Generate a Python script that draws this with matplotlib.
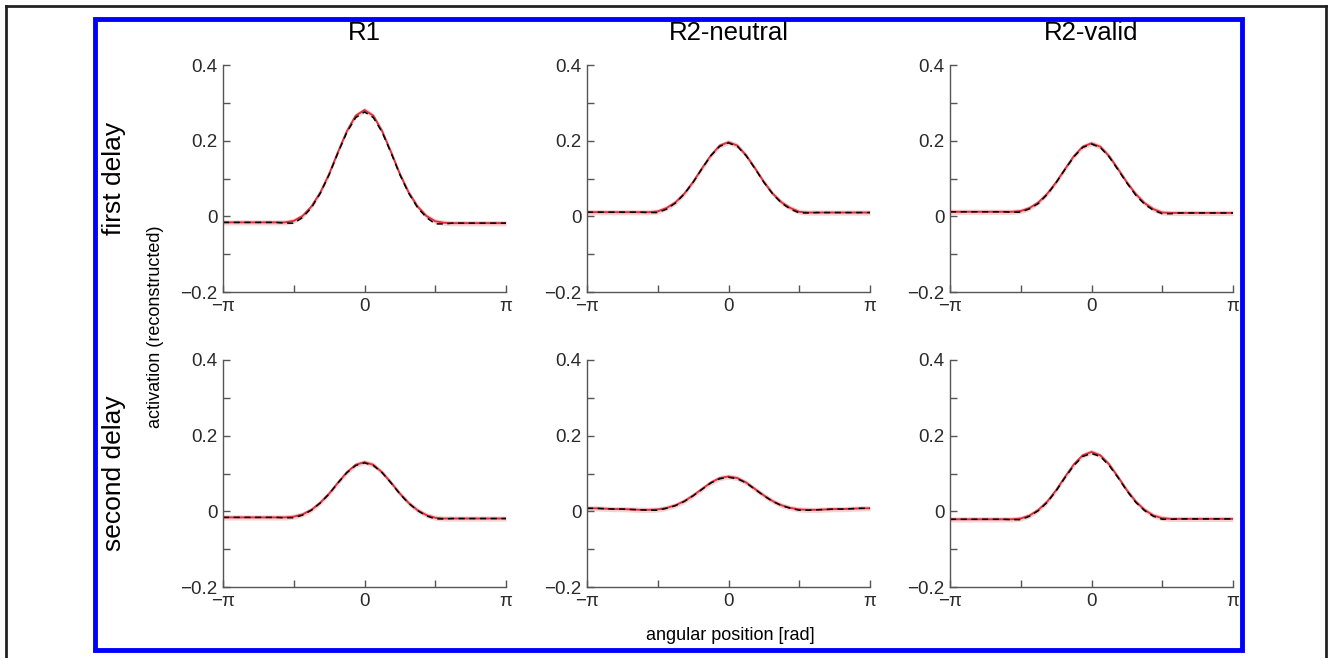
# ===============================
# 1. Import Libraries
# ===============================
import numpy as np
import matplotlib
matplotlib.use("Agg")
import matplotlib.pyplot as plt
from matplotlib.patches import Rectangle
from matplotlib.lines import Line2D

plt.rcParams['font.family'] = ['Liberation Sans', 'DejaVu Sans']

# ===============================
# 2. Data
# ===============================
# 33 samples from -pi to pi
angle = np.linspace(-np.pi, np.pi, 33)

columns = ['R1', 'R2-neutral', 'R2-valid']
rows = ['first delay', 'second delay']

# reconstructed activation (red) and model fit (dashed black)
red_r1_first = [-0.016, -0.016, -0.016, -0.016, -0.016, -0.016, -0.016, -0.016, -0.012, 0.001, 0.026,
                0.063, 0.112, 0.170, 0.225, 0.266, 0.281, 0.266, 0.225, 0.170, 0.112, 0.063, 0.026,
                0.001, -0.013, -0.017, -0.018, -0.018, -0.018, -0.018, -0.018, -0.018, -0.018]
fit_r1_first = [-0.016, -0.016, -0.016, -0.016, -0.016, -0.016, -0.016, -0.018, -0.018, -0.003, 0.023,
                0.061, 0.110, 0.168, 0.222, 0.261, 0.276, 0.261, 0.222, 0.168, 0.110, 0.061, 0.023,
                -0.003, -0.020, -0.020, -0.018, -0.018, -0.018, -0.018, -0.018, -0.018, -0.018]

red_neu_first = [0.011, 0.011, 0.011, 0.011, 0.011, 0.011, 0.011, 0.011, 0.013, 0.022, 0.037,
                 0.060, 0.091, 0.127, 0.161, 0.187, 0.196, 0.187, 0.161, 0.127, 0.091, 0.060, 0.037,
                 0.022, 0.012, 0.010, 0.010, 0.010, 0.010, 0.010, 0.010, 0.010, 0.010]
fit_neu_first = [0.011, 0.011, 0.011, 0.011, 0.011, 0.011, 0.011, 0.010, 0.010, 0.019, 0.035,
                 0.059, 0.090, 0.126, 0.160, 0.185, 0.194, 0.185, 0.160, 0.126, 0.090, 0.059, 0.035,
                 0.019, 0.009, 0.009, 0.010, 0.010, 0.010, 0.010, 0.010, 0.010, 0.010]

red_val_first = [0.012, 0.012, 0.012, 0.012, 0.012, 0.012, 0.012, 0.012, 0.014, 0.022, 0.037,
                 0.060, 0.090, 0.125, 0.159, 0.184, 0.193, 0.184, 0.159, 0.125, 0.090, 0.059, 0.035,
                 0.019, 0.010, 0.009, 0.009, 0.009, 0.009, 0.009, 0.009, 0.009, 0.009]
fit_val_first = [0.012, 0.012, 0.012, 0.012, 0.012, 0.012, 0.012, 0.011, 0.011, 0.020, 0.034,
                 0.058, 0.089, 0.124, 0.157, 0.182, 0.191, 0.182, 0.157, 0.123, 0.088, 0.056, 0.032,
                 0.016, 0.007, 0.007, 0.009, 0.009, 0.009, 0.009, 0.009, 0.009, 0.009]

red_r1_second = [-0.016, -0.016, -0.016, -0.016, -0.016, -0.016, -0.016, -0.016, -0.014, -0.008, 0.004,
                 0.023, 0.047, 0.076, 0.103, 0.123, 0.130, 0.123, 0.103, 0.076, 0.047, 0.022, 0.003,
                 -0.010, -0.017, -0.019, -0.019, -0.019, -0.019, -0.019, -0.019, -0.019, -0.019]
fit_r1_second = [-0.016, -0.016, -0.016, -0.016, -0.016, -0.016, -0.016, -0.017, -0.017, -0.010, 0.003,
                 0.022, 0.046, 0.075, 0.102, 0.121, 0.128, 0.121, 0.102, 0.075, 0.046, 0.021, 0.002,
                 -0.012, -0.020, -0.020, -0.019, -0.019, -0.019, -0.019, -0.019, -0.019, -0.019]

red_neu_second = [0.008, 0.008, 0.007, 0.006, 0.006, 0.005, 0.004, 0.004, 0.005, 0.009, 0.016,
                  0.027, 0.042, 0.059, 0.076, 0.088, 0.092, 0.088, 0.076, 0.059, 0.042, 0.027, 0.016,
                  0.009, 0.005, 0.004, 0.004, 0.005, 0.006, 0.006, 0.007, 0.008, 0.008]
fit_neu_second = [0.008, 0.008, 0.007, 0.006, 0.006, 0.005, 0.004, 0.003, 0.003, 0.008, 0.015,
                  0.026, 0.041, 0.058, 0.075, 0.086, 0.090, 0.086, 0.075, 0.058, 0.041, 0.026, 0.015,
                  0.008, 0.003, 0.003, 0.004, 0.005, 0.006, 0.006, 0.007, 0.008, 0.008]

red_val_second = [-0.021, -0.021, -0.021, -0.021, -0.021, -0.021, -0.021, -0.021, -0.019, -0.011, 0.004,
                  0.026, 0.056, 0.091, 0.124, 0.148, 0.157, 0.148, 0.124, 0.091, 0.056, 0.026, 0.004,
                  -0.011, -0.018, -0.020, -0.020, -0.020, -0.020, -0.020, -0.020, -0.020, -0.020]
fit_val_second = [-0.021, -0.021, -0.021, -0.021, -0.021, -0.021, -0.021, -0.022, -0.022, -0.013, 0.002,
                  0.024, 0.054, 0.089, 0.121, 0.145, 0.153, 0.145, 0.121, 0.089, 0.054, 0.024, 0.002,
                  -0.013, -0.021, -0.021, -0.020, -0.020, -0.020, -0.020, -0.020, -0.020, -0.020]

red_curves = [[red_r1_first, red_neu_first, red_val_first],
              [red_r1_second, red_neu_second, red_val_second]]
fit_curves = [[fit_r1_first, fit_neu_first, fit_val_first],
              [fit_r1_second, fit_neu_second, fit_val_second]]

# ===============================
# 3. Figure layout
# ===============================
W, H = 1333, 658
fig = plt.figure(figsize=(W / 100, H / 100), dpi=100)

ax_left = [223, 587, 950]
ax_top = [65, 360]
ax_w, ax_h = 283, 227

red = '#d6333e'
band = 0.007
tick_col = '#2a2a2a'
spine_col = '#555555'

for r in range(2):
    for c in range(3):
        ax = fig.add_axes([ax_left[c] / W, 1 - (ax_top[r] + ax_h) / H, ax_w / W, ax_h / H])
        y_red = np.array(red_curves[r][c])
        ax.fill_between(angle, y_red - band, y_red + band, color=red, alpha=0.22, lw=0)
        ax.plot(angle, y_red, color=red, lw=1.4)
        ax.plot(angle, fit_curves[r][c], color='black', lw=1.1, ls=(0, (4, 3)))

        ax.set_xlim(-np.pi, np.pi)
        ax.set_ylim(-0.2, 0.4)
        ax.set_xticks([-np.pi, 0, np.pi])
        ax.set_xticklabels(['\u2212\u03c0', '0', '\u03c0'])
        ax.set_xticks([-np.pi / 2, np.pi / 2], minor=True)
        ax.set_yticks([-0.2, 0, 0.2, 0.4])
        ax.set_yticklabels(['\u22120.2', '0', '0.2', '0.4'])
        ax.set_yticks([-0.1, 0.1, 0.3], minor=True)
        ax.tick_params(which='both', direction='in', length=5, width=1, color=spine_col,
                       labelsize=13.5, labelcolor=tick_col, pad=4)
        for s in ['top', 'right']:
            ax.spines[s].set_visible(False)
        for s in ['left', 'bottom']:
            ax.spines[s].set_color(spine_col)
            ax.spines[s].set_linewidth(1)
        ax.patch.set_visible(False)

# column titles
for c in range(3):
    fig.text((ax_left[c] + ax_w / 2) / W, 1 - 33 / H, columns[c], fontsize=18.5,
             ha='center', va='center')

# row labels and shared axis labels
for r in range(2):
    fig.text(114 / W, 1 - (ax_top[r] + ax_h / 2) / H, rows[r], rotation=90,
             fontsize=19, ha='center', va='center')
fig.text(156 / W, 1 - 327 / H, 'activation (reconstructed)', rotation=90,
         fontsize=13, ha='center', va='center')
fig.text(730 / W, 1 - 636 / H, 'angular position [rad]', fontsize=13,
         ha='center', va='center')

# blue frame and outer border
fig.patches.append(Rectangle((95 / W, 1 - 650 / H), 1147 / W, 631 / H,
                             transform=fig.transFigure, fill=False,
                             edgecolor='#0000ff', lw=3.5))
for xs, ys in [([6, 6], [658, 6]), ([6, 1326], [6, 6]), ([1326, 1326], [6, 658])]:
    fig.lines.append(Line2D([x / W for x in xs], [1 - y / H for y in ys],
                            transform=fig.transFigure, color='#222222', lw=2))

fig.savefig('out.png', dpi=100)
